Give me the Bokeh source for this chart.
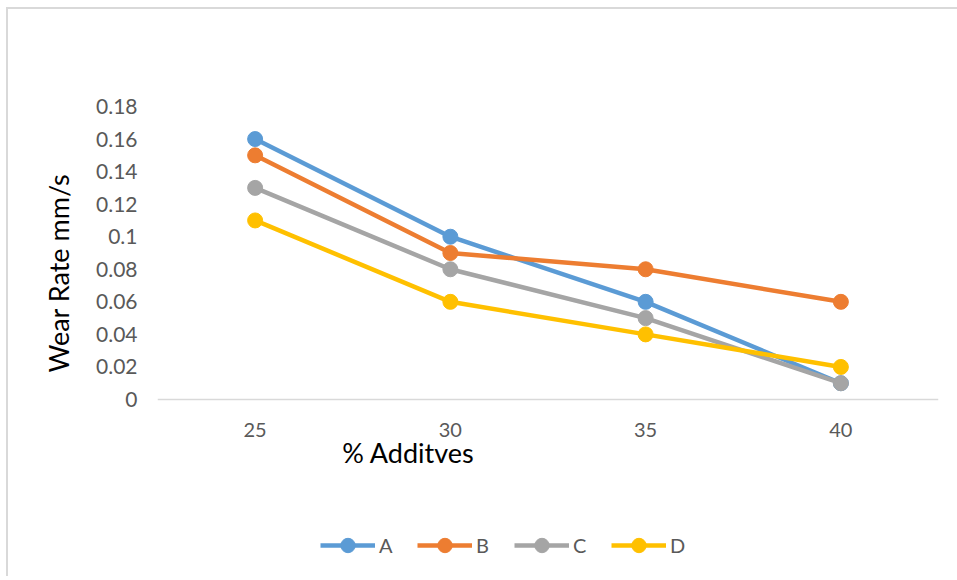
from bokeh.plotting import figure
from bokeh.models import FactorRange, Range1d, FixedTicker, Legend, LegendItem, Title, Label
from bokeh.embed import file_html
from bokeh.resources import INLINE

# Wear rate (mm/s) against additive percentage for four mixes
additives = ["25", "30", "35", "40"]
series_names = ["A", "B", "C", "D"]
wear_a = [0.16, 0.10, 0.06, 0.01]
wear_b = [0.15, 0.09, 0.08, 0.06]
wear_c = [0.13, 0.08, 0.05, 0.01]
wear_d = [0.11, 0.06, 0.04, 0.02]
colors = ["#5B9BD5", "#ED7D31", "#A5A5A5", "#FFC000"]

y_ticks = [0, 0.02, 0.04, 0.06, 0.08, 0.10, 0.12, 0.14, 0.16, 0.18]
y_tick_labels = ["0", "0.02", "0.04", "0.06", "0.08", "0.1", "0.12", "0.14", "0.16", "0.18"]
y_max = 0.18

FONT = "Lato"
GREY_TEXT = "#595959"

# layout: the value axis spans PLOT_H px; the frame continues below it so the
# axis title and the legend can sit inside the frame under the category axis
PLOT_H = 293
EXTRA_H = 177
px_per_unit = PLOT_H / y_max
y_min = -EXTRA_H / px_per_unit

p = figure(
    frame_width=781, frame_height=PLOT_H + EXTRA_H,
    x_range=FactorRange(*additives, range_padding=0),
    y_range=Range1d(y_min, y_max),
    output_backend="svg", toolbar_location=None,
    min_border_left=149, min_border_right=19,
    min_border_top=97, min_border_bottom=0,
    margin=(7, 0, 0, 6),
)
p.styles = {"border-left": "2px solid #d9d9d9", "border-top": "2px solid #d9d9d9"}
p.outline_line_color = None
p.grid.visible = False
p.background_fill_color = "white"
p.border_fill_color = "white"

# y axis: labels only
p.yaxis.ticker = FixedTicker(ticks=y_ticks)
p.yaxis.major_label_overrides = {t: s for t, s in zip(y_ticks, y_tick_labels)}
p.yaxis.axis_line_color = None
p.yaxis.major_tick_line_color = None
p.yaxis.minor_tick_line_color = None
p.yaxis.major_label_standoff = 14
p.yaxis.major_label_text_font = FONT
p.yaxis.major_label_text_font_size = "21px"
p.yaxis.major_label_text_color = GREY_TEXT

# x axis: light baseline at zero, category labels
p.xaxis.fixed_location = 0
p.xaxis.axis_line_color = "#D9D9D9"
p.xaxis.axis_line_width = 1.5
p.xaxis.major_tick_line_color = None
p.xaxis.minor_tick_line_color = None
p.xaxis.major_label_standoff = 17
p.xaxis.major_label_text_font = FONT
p.xaxis.major_label_text_font_size = "20px"
p.xaxis.major_label_text_color = GREY_TEXT

items = []
for name, vals, col in zip(series_names, [wear_a, wear_b, wear_c, wear_d], colors):
    ln = p.line(additives, vals, line_color=col, line_width=4.5)
    sc = p.scatter(additives, vals, size=15, fill_color=col, line_color=col)
    items.append(LegendItem(label=name, renderers=[ln, sc]))

# axis titles
p.add_layout(Label(x=1.285, y=-53 / px_per_unit, text="% Additves",
                   text_align="center", text_baseline="middle",
                   text_font=FONT, text_font_size="27px", text_color="black"))
p.add_layout(Title(text="Wear Rate mm/s", align="left", offset=27 + EXTRA_H, standoff=38,
                   text_font=FONT, text_font_size="27px", text_font_style="normal",
                   text_color="black"), "left")

legend = Legend(
    items=items, orientation="horizontal", location=(163, EXTRA_H - 164),
    glyph_width=55, glyph_height=36, label_standoff=4, spacing=18,
    padding=0, margin=0, border_line_color=None, background_fill_alpha=0,
    label_text_font=FONT, label_text_font_size="20px", label_text_color=GREY_TEXT,
)
p.add_layout(legend, "center")

open("out.html", "w").write(file_html(p, INLINE))
